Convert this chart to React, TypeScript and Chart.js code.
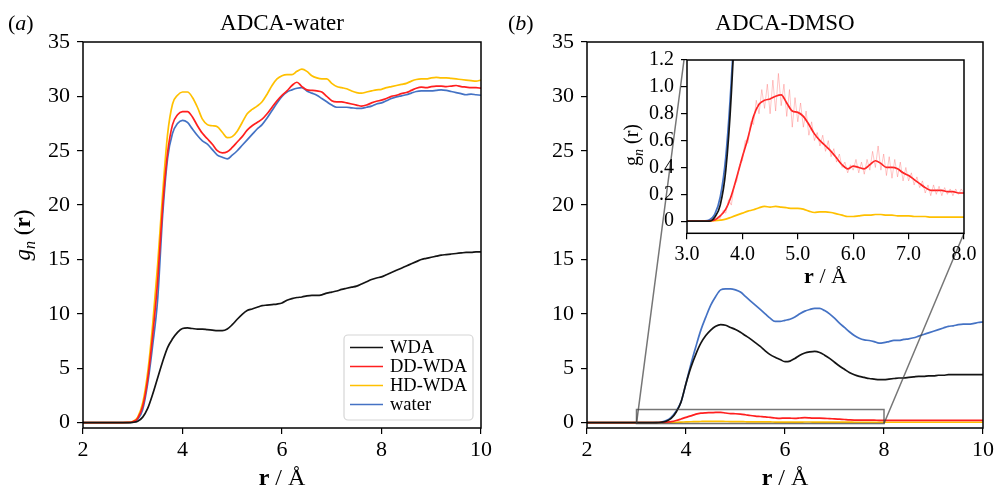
import React, { useEffect, useRef } from "react";
import { Chart, registerables } from "chart.js";
Chart.register(...registerables);

// ---------------- data ----------------
const R = [
  2.0, 2.5, 2.8, 2.9,
  3.0, 3.1, 3.2, 3.3, 3.4, 3.5, 3.6, 3.7, 3.8, 3.9,
  4.0, 4.1, 4.2, 4.3, 4.4, 4.5, 4.6, 4.7, 4.8, 4.9,
  5.0, 5.1, 5.2, 5.3, 5.4, 5.5, 5.6, 5.7, 5.8, 5.9,
  6.0, 6.1, 6.2, 6.3, 6.4, 6.5, 6.6, 6.7, 6.8, 6.9,
  7.0, 7.1, 7.2, 7.3, 7.4, 7.5, 7.6, 7.7, 7.8, 7.9,
  8.0, 8.1, 8.2, 8.3, 8.4, 8.5, 8.6, 8.7, 8.8, 8.9,
  9.0, 9.1, 9.2, 9.3, 9.4, 9.5, 9.6, 9.7, 9.8, 9.9,
  10.0,
];

const SERIES_LABELS = ["WDA", "DD-WDA", "HD-WDA", "water"];
const SERIES_COLORS = ["#141414", "#ff1f1f", "#ffc000", "#4472c4"];

// (a) ADCA-water
const A_WDA = [
  0, 0, 0, 0,
  0.02, 0.12, 0.5, 1.3, 2.6, 4.1, 5.6, 6.9, 7.7, 8.3,
  8.65, 8.7, 8.65, 8.6, 8.6, 8.55, 8.5, 8.45, 8.45, 8.6,
  9.0, 9.5, 9.95, 10.3, 10.45, 10.6, 10.75, 10.8, 10.85, 10.9,
  11.0, 11.25, 11.4, 11.5, 11.55, 11.65, 11.7, 11.7, 11.75, 11.9,
  12.0, 12.1, 12.25, 12.35, 12.45, 12.55, 12.75, 12.95, 13.15, 13.3,
  13.4, 13.6, 13.8, 14.0, 14.2, 14.4, 14.6, 14.8, 15.0, 15.1,
  15.2, 15.3, 15.4, 15.45, 15.5, 15.55, 15.6, 15.65, 15.65, 15.7,
  15.7,
];
const A_DD = [
  0, 0, 0, 0.01,
  0.08, 0.4, 1.5, 4.0, 8.0, 13.0, 19.8, 24.8, 27.4, 28.3,
  28.6, 28.6, 28.1, 27.3, 26.6, 26.1, 25.6, 25.0, 24.8, 24.9,
  25.3, 25.8, 26.3, 26.9, 27.3, 27.6, 27.9, 28.4, 29.0, 29.6,
  30.1, 30.5, 31.0, 31.3, 30.9, 30.6, 30.55, 30.5, 30.4, 30.0,
  29.6, 29.5, 29.5, 29.4, 29.3, 29.2, 29.1, 29.2, 29.4, 29.55,
  29.65, 29.8, 30.0, 30.1, 30.25, 30.35, 30.55, 30.75, 30.85, 30.8,
  30.9, 30.95, 30.95, 30.9, 30.95, 31.0, 30.9, 30.85, 30.8, 30.8,
  30.75,
];
const A_HD = [
  0, 0, 0, 0.01,
  0.1, 0.5, 1.8, 4.6, 9.0, 14.5, 21.0, 26.5, 29.3, 30.1,
  30.4, 30.4, 29.9, 29.0, 27.9, 27.4, 27.3, 27.2, 26.7, 26.2,
  26.3, 26.8, 27.6, 28.4, 28.8, 29.1, 29.5, 30.2, 31.0, 31.6,
  31.9, 32.0, 32.0, 32.3, 32.5, 32.3, 31.9, 31.7, 31.6, 31.6,
  31.2, 30.9, 30.8, 30.7, 30.5, 30.35, 30.3, 30.4, 30.5, 30.6,
  30.65, 30.8, 30.9, 31.0, 31.1, 31.2, 31.4, 31.55, 31.6, 31.6,
  31.7, 31.75, 31.7, 31.7, 31.65, 31.6, 31.55, 31.5, 31.45, 31.4,
  31.5,
];
const A_WATER = [
  0, 0, 0, 0,
  0.05, 0.3, 1.2, 3.6, 7.1, 11.3, 19.0, 24.3, 26.6, 27.5,
  27.8, 27.6, 27.0, 26.4, 25.9, 25.6, 25.1, 24.6, 24.4, 24.25,
  24.6, 25.0, 25.5, 26.0, 26.5, 27.0, 27.4, 28.0, 28.7, 29.4,
  30.0, 30.4, 30.6, 30.75, 30.8, 30.5, 30.3, 30.1, 29.8, 29.5,
  29.2, 29.0, 29.0, 29.0, 28.95, 28.9, 28.9, 29.0, 29.1, 29.3,
  29.4, 29.6, 29.8, 29.95, 30.05, 30.15, 30.3, 30.45, 30.5, 30.5,
  30.5, 30.55, 30.6, 30.55, 30.45, 30.35, 30.25, 30.15, 30.2, 30.15,
  30.1,
];

// (b) ADCA-DMSO
const B_WDA = [
  0, 0, 0, 0,
  0, 0, 0, 0, 0, 0.03, 0.12, 0.38, 0.95, 1.9,
  3.6, 5.1, 6.3, 7.3, 8.0, 8.5, 8.85, 9.0, 8.95, 8.75,
  8.55, 8.3, 8.0, 7.7, 7.35, 7.0, 6.6, 6.25, 6.0, 5.8,
  5.6, 5.65, 5.9, 6.2, 6.4, 6.5, 6.55, 6.45, 6.2, 5.9,
  5.55, 5.2, 4.9, 4.6, 4.4, 4.25, 4.15, 4.05, 4.0, 3.95,
  3.95, 4.0, 4.05, 4.1, 4.1, 4.15, 4.2, 4.25, 4.25, 4.3,
  4.3, 4.35, 4.35, 4.4, 4.4, 4.4, 4.4, 4.4, 4.4, 4.4,
  4.4,
];
const B_DD = [
  0, 0, 0, 0,
  0, 0, 0, 0, 0.003, 0.01, 0.04, 0.09, 0.19, 0.33,
  0.48, 0.62, 0.78, 0.87, 0.9, 0.91, 0.93, 0.94, 0.88, 0.82,
  0.81, 0.78, 0.72, 0.65, 0.6, 0.56, 0.52, 0.47, 0.42, 0.39,
  0.41, 0.4, 0.39, 0.42, 0.45, 0.43, 0.4, 0.4, 0.39, 0.36,
  0.34, 0.31, 0.28, 0.25, 0.23, 0.23, 0.23, 0.22, 0.22, 0.21,
  0.21, 0.21, 0.2, 0.2, 0.2, 0.2, 0.2, 0.2, 0.2, 0.2,
  0.2, 0.2, 0.2, 0.2, 0.2, 0.2, 0.2, 0.2, 0.2, 0.2,
  0.2,
];
const B_HD = [
  0, 0, 0, 0,
  0, 0, 0, 0, 0.002, 0.004, 0.008, 0.015, 0.03, 0.045,
  0.06, 0.075, 0.085, 0.1, 0.11, 0.105, 0.11, 0.105, 0.1, 0.095,
  0.095, 0.09, 0.075, 0.065, 0.07, 0.07, 0.065, 0.055, 0.045, 0.035,
  0.035, 0.04, 0.045, 0.045, 0.05, 0.05, 0.045, 0.045, 0.04, 0.04,
  0.04, 0.035, 0.035, 0.035, 0.03, 0.03, 0.03, 0.03, 0.03, 0.03,
  0.03, 0.03, 0.03, 0.03, 0.03, 0.03, 0.03, 0.03, 0.03, 0.03,
  0.03, 0.03, 0.03, 0.03, 0.03, 0.03, 0.03, 0.03, 0.03, 0.03,
  0.03,
];
const B_WATER = [
  0, 0, 0, 0,
  0, 0, 0, 0.002, 0.01, 0.05, 0.18, 0.48, 1.05, 1.9,
  3.6, 5.4, 7.0, 8.5, 9.7, 10.8, 11.6, 12.2, 12.3, 12.3,
  12.2, 12.0, 11.6, 11.2, 10.8, 10.4, 10.0, 9.6, 9.3, 9.3,
  9.4, 9.5, 9.7, 10.0, 10.25, 10.4, 10.5, 10.5, 10.3, 10.0,
  9.6, 9.15, 8.75, 8.35, 8.0, 7.75, 7.6, 7.55, 7.45, 7.3,
  7.35, 7.45, 7.55, 7.55, 7.65, 7.7, 7.8, 7.95, 8.1, 8.25,
  8.4, 8.55, 8.7, 8.85, 8.9, 9.0, 9.05, 9.05, 9.1, 9.2,
  9.25,
];

// raw (unsmoothed) DD-WDA trace of panel (b), visible in the inset
const R_RAW = [
  3.5, 3.55, 3.6, 3.65, 3.7, 3.75, 3.8, 3.85, 3.9, 3.95,
  4.0, 4.05, 4.1, 4.15, 4.2, 4.25, 4.3, 4.35, 4.4, 4.45,
  4.5, 4.55, 4.6, 4.65, 4.7, 4.75, 4.8, 4.85, 4.9, 4.95,
  5.0, 5.05, 5.1, 5.15, 5.2, 5.25, 5.3, 5.35, 5.4, 5.45,
  5.5, 5.55, 5.6, 5.65, 5.7, 5.75, 5.8, 5.85, 5.9, 5.95,
  6.0, 6.05, 6.1, 6.15, 6.2, 6.25, 6.3, 6.35, 6.4, 6.45,
  6.5, 6.55, 6.6, 6.65, 6.7, 6.75, 6.8, 6.85, 6.9, 6.95,
  7.0, 7.05, 7.1, 7.15, 7.2, 7.25, 7.3, 7.35, 7.4, 7.45,
  7.5, 7.55, 7.6, 7.65, 7.7, 7.75, 7.8, 7.85, 7.9, 7.95,
  8.0,
];
const B_DD_RAW = [
  0.01, 0.03, 0.02, 0.08, 0.06, 0.16, 0.12, 0.26, 0.3, 0.42,
  0.45, 0.6, 0.58, 0.74, 0.72, 0.9, 0.8, 0.98, 0.84, 1.02,
  0.8, 1.05, 0.82, 1.1, 0.86, 1.02, 0.78, 0.98, 0.7, 0.92,
  0.74, 0.88, 0.7, 0.82, 0.64, 0.74, 0.6, 0.66, 0.56, 0.64,
  0.52, 0.6, 0.48, 0.54, 0.44, 0.5, 0.4, 0.44, 0.36, 0.42,
  0.38, 0.46, 0.36, 0.44, 0.35, 0.46, 0.38, 0.52, 0.4, 0.56,
  0.38, 0.5, 0.34, 0.48, 0.32, 0.46, 0.33, 0.44, 0.3, 0.4,
  0.3, 0.36, 0.27, 0.33, 0.25, 0.3, 0.21, 0.27, 0.19, 0.27,
  0.2, 0.26, 0.19, 0.25, 0.2, 0.24, 0.19, 0.24, 0.2, 0.24,
  0.21,
];

const MAIN_X_TICKS = [2, 4, 6, 8, 10];
const MAIN_Y_TICKS = [0, 5, 10, 15, 20, 25, 30, 35];
const INSET_X_TICKS = [3, 4, 5, 6, 7, 8];
const INSET_Y_TICKS = [0, 0.2, 0.4, 0.6, 0.8, 1.0, 1.2];

// ---------------- layout ----------------
const FONT = "'Liberation Serif', 'Times New Roman', serif";
const INSET_BOX = { left: 687, top: 60, right: 964, bottom: 233.3 }; // page px
const PANEL_B_LEFT = 500;
const INSET_CANVAS = { left: 615, top: 40, width: 390, height: 260 };

type Part = { t: string; font: string; dy?: number };
function drawParts(ctx: CanvasRenderingContext2D, parts: Part[], x: number, y: number, align: "center" | "left") {
  let total = 0;
  const widths = parts.map((p) => {
    ctx.font = p.font;
    const w = ctx.measureText(p.t).width;
    total += w;
    return w;
  });
  let cx = align === "center" ? x - total / 2 : x;
  ctx.textBaseline = "alphabetic";
  ctx.textAlign = "left";
  parts.forEach((p, i) => {
    ctx.font = p.font;
    ctx.fillText(p.t, cx, y + (p.dy || 0));
    cx += widths[i];
  });
}

function datasets(series: number[][]) {
  return series.map((vals, i) => ({
    label: SERIES_LABELS[i],
    data: R.map((x, j) => ({ x, y: vals[j] })),
    borderColor: SERIES_COLORS[i],
    backgroundColor: SERIES_COLORS[i],
    borderWidth: 1.7,
    pointRadius: 0,
    cubicInterpolationMode: "monotone" as const,
    fill: false,
  }));
}

function axisScales(opts: {
  xMin: number; xMax: number; yMin: number; yMax: number;
  xTicks: number[]; yTicks: number[]; yWidth: number; xHeight: number;
  fontSize: number; xFmt: (v: number) => string; yFmt: (v: number) => string;
}) {
  const grid = { display: true, drawOnChartArea: false, drawTicks: true, tickLength: 6, color: "#000", lineWidth: 1.2 };
  return {
    x: {
      type: "linear" as const,
      min: opts.xMin, max: opts.xMax,
      grid, border: { display: false },
      afterBuildTicks: (s: any) => { s.ticks = opts.xTicks.map((v) => ({ value: v })); },
      afterFit: (s: any) => { s.height = opts.xHeight; },
      ticks: { color: "#000", font: { family: FONT, size: opts.fontSize }, padding: 3, maxRotation: 0, autoSkip: false, callback: (v: any) => opts.xFmt(Number(v)) },
    },
    y: {
      type: "linear" as const,
      min: opts.yMin, max: opts.yMax,
      grid, border: { display: false },
      afterBuildTicks: (s: any) => { s.ticks = opts.yTicks.map((v) => ({ value: v })); },
      afterFit: (s: any) => { s.width = opts.yWidth; },
      ticks: { color: "#000", font: { family: FONT, size: opts.fontSize }, padding: 7, autoSkip: false, callback: (v: any) => opts.yFmt(Number(v)) },
    },
  };
}

const framePlugin = {
  id: "frame",
  afterDatasetsDraw(chart: any) {
    const { ctx, chartArea: a } = chart;
    ctx.save();
    ctx.strokeStyle = "#000";
    ctx.lineWidth = 1.5;
    ctx.strokeRect(a.left, a.top, a.right - a.left, a.bottom - a.top);
    ctx.restore();
  },
};

function mainTextPlugin(letter: string, title: string, withYLabel: boolean) {
  return {
    id: "mainText",
    afterDraw(chart: any) {
      const { ctx, chartArea: a } = chart;
      ctx.save();
      ctx.fillStyle = "#000";
      const cx = (a.left + a.right) / 2;
      drawParts(ctx, [
        { t: "(", font: `22px ${FONT}` },
        { t: letter, font: `italic 22px ${FONT}` },
        { t: ")", font: `22px ${FONT}` },
      ], 8, 30, "left");
      drawParts(ctx, [{ t: title, font: `23px ${FONT}` }], cx, 30, "center");
      drawParts(ctx, [
        { t: "r", font: `bold 24px ${FONT}` },
        { t: " / Å", font: `24px ${FONT}` },
      ], cx, 485, "center");
      if (withYLabel) {
        ctx.translate(30, (a.top + a.bottom) / 2);
        ctx.rotate(-Math.PI / 2);
        drawParts(ctx, [
          { t: "g", font: `italic 23px ${FONT}` },
          { t: "n", font: `italic 16px ${FONT}`, dy: 5 },
          { t: " (", font: `23px ${FONT}` },
          { t: "r", font: `bold 23px ${FONT}` },
          { t: ")", font: `23px ${FONT}` },
        ], 0, 0, "center");
      }
      ctx.restore();
    },
  };
}

const legendPlugin = {
  id: "customLegend",
  afterDraw(chart: any) {
    const { ctx } = chart;
    ctx.save();
    const x0 = 344, y0 = 335, w = 129, h = 85, r = 4;
    ctx.beginPath();
    ctx.moveTo(x0 + r, y0);
    ctx.arcTo(x0 + w, y0, x0 + w, y0 + h, r);
    ctx.arcTo(x0 + w, y0 + h, x0, y0 + h, r);
    ctx.arcTo(x0, y0 + h, x0, y0, r);
    ctx.arcTo(x0, y0, x0 + w, y0, r);
    ctx.closePath();
    ctx.fillStyle = "rgba(255,255,255,0.85)";
    ctx.fill();
    ctx.strokeStyle = "#d6d6d6";
    ctx.lineWidth = 1.2;
    ctx.stroke();
    chart.data.datasets.forEach((ds: any, i: number) => {
      const y = 347.5 + i * 19;
      ctx.strokeStyle = ds.borderColor;
      ctx.lineWidth = 1.7;
      ctx.beginPath();
      ctx.moveTo(350, y);
      ctx.lineTo(383, y);
      ctx.stroke();
      ctx.fillStyle = "#000";
      ctx.font = `18.5px ${FONT}`;
      ctx.textBaseline = "middle";
      ctx.textAlign = "left";
      ctx.fillText(ds.label, 390, y + 1);
    });
    ctx.restore();
  },
};

const zoomMarkPlugin = {
  id: "zoomMark",
  afterDatasetsDraw(chart: any) {
    const { ctx, scales } = chart;
    const xs = scales.x, ys = scales.y;
    const x1 = xs.getPixelForValue(INSET_X_TICKS[0]);
    const x2 = xs.getPixelForValue(INSET_X_TICKS[INSET_X_TICKS.length - 1]);
    const yb = ys.getPixelForValue(-0.09);
    const yt = ys.getPixelForValue(INSET_Y_TICKS[INSET_Y_TICKS.length - 1]);
    ctx.save();
    ctx.strokeStyle = "rgba(60,60,60,0.7)";
    ctx.lineWidth = 1.5;
    ctx.strokeRect(x1, yt, x2 - x1, yb - yt);
    ctx.beginPath();
    ctx.moveTo(x1, yb);
    ctx.lineTo(INSET_BOX.left - 3 - PANEL_B_LEFT, INSET_BOX.top);
    ctx.moveTo(x2, yb);
    ctx.lineTo(INSET_BOX.right - PANEL_B_LEFT, INSET_BOX.bottom);
    ctx.stroke();
    ctx.restore();
  },
};

const insetPlugin = {
  id: "insetText",
  beforeDatasetsDraw(chart: any) {
    const { ctx, chartArea: a } = chart;
    ctx.save();
    ctx.fillStyle = "#fff";
    ctx.fillRect(a.left, a.top, a.right - a.left, a.bottom - a.top);
    ctx.restore();
  },
  afterDraw(chart: any) {
    const { ctx, chartArea: a } = chart;
    ctx.save();
    ctx.fillStyle = "#000";
    drawParts(ctx, [
      { t: "r", font: `bold 22px ${FONT}` },
      { t: " / Å", font: `22px ${FONT}` },
    ], (a.left + a.right) / 2, 283 - INSET_CANVAS.top, "center");
    ctx.translate(638 - INSET_CANVAS.left, 145 - INSET_CANVAS.top);
    ctx.rotate(-Math.PI / 2);
    drawParts(ctx, [
      { t: "g", font: `20px ${FONT}` },
      { t: "n", font: `italic 14px ${FONT}`, dy: 5 },
      { t: " (r)", font: `20px ${FONT}` },
    ], 0, 0, "center");
    ctx.restore();
  },
};

function baseOptions(scales: any, padding: any) {
  return {
    responsive: false,
    animation: false as const,
    devicePixelRatio: 1,
    layout: { padding },
    plugins: { legend: { display: false }, tooltip: { enabled: false } },
    scales,
  };
}

export default function App() {
  const aRef = useRef<HTMLCanvasElement>(null);
  const bRef = useRef<HTMLCanvasElement>(null);
  const iRef = useRef<HTMLCanvasElement>(null);

  useEffect(() => {
    const fmtInt = (v: number) => String(v);
    const mainScales = (yWidth: number) => axisScales({
      xMin: 2, xMax: 10, yMin: -0.5, yMax: 35,
      xTicks: MAIN_X_TICKS, yTicks: MAIN_Y_TICKS,
      yWidth, xHeight: 60, fontSize: 22, xFmt: fmtInt, yFmt: fmtInt,
    });

    const chartA = new Chart(aRef.current!, {
      type: "line",
      data: { datasets: datasets([A_WDA, A_DD, A_HD, A_WATER]) },
      options: baseOptions(mainScales(83), { top: 42, right: 19, left: 0, bottom: 0 }) as any,
      plugins: [framePlugin, mainTextPlugin("a", "ADCA-water", true), legendPlugin],
    });

    const chartB = new Chart(bRef.current!, {
      type: "line",
      data: { datasets: datasets([B_WDA, B_DD, B_HD, B_WATER]) },
      options: baseOptions(mainScales(87), { top: 42, right: 14, left: 0, bottom: 0 }) as any,
      plugins: [framePlugin, zoomMarkPlugin, mainTextPlugin("b", "ADCA-DMSO", false)],
    });

    const insetScales = axisScales({
      xMin: 3, xMax: 8, yMin: -0.09, yMax: 1.2,
      xTicks: INSET_X_TICKS, yTicks: INSET_Y_TICKS,
      yWidth: INSET_BOX.left - INSET_CANVAS.left,
      xHeight: INSET_CANVAS.height - (INSET_BOX.bottom - INSET_CANVAS.top),
      fontSize: 20,
      xFmt: (v) => v.toFixed(1),
      yFmt: (v) => (v === 0 ? "0" : v.toFixed(1)),
    });
    const rawDs = {
      label: "DD-WDA raw",
      data: R_RAW.map((x, j) => ({ x, y: B_DD_RAW[j] })),
      borderColor: "rgba(255,90,90,0.35)",
      borderWidth: 1,
      pointRadius: 0,
      tension: 0,
      fill: false,
    };
    const chartI = new Chart(iRef.current!, {
      type: "line",
      data: { datasets: [rawDs as any, ...datasets([B_WDA, B_DD, B_HD, B_WATER])] },
      options: baseOptions(insetScales, {
        top: INSET_BOX.top - INSET_CANVAS.top,
        right: INSET_CANVAS.left + INSET_CANVAS.width - INSET_BOX.right,
        left: 0, bottom: 0,
      }) as any,
      plugins: [insetPlugin, framePlugin],
    });

    return () => {
      chartA.destroy();
      chartB.destroy();
      chartI.destroy();
    };
  }, []);

  return (
    <div style={{ position: "absolute", left: 0, top: 0, width: 997, height: 488, background: "#fff", overflow: "hidden" }}>
      <canvas ref={aRef} width={500} height={488} style={{ position: "absolute", left: 0, top: 0 }} />
      <canvas ref={bRef} width={497} height={488} style={{ position: "absolute", left: PANEL_B_LEFT, top: 0 }} />
      <canvas
        ref={iRef}
        width={INSET_CANVAS.width}
        height={INSET_CANVAS.height}
        style={{ position: "absolute", left: INSET_CANVAS.left, top: INSET_CANVAS.top }}
      />
    </div>
  );
}
